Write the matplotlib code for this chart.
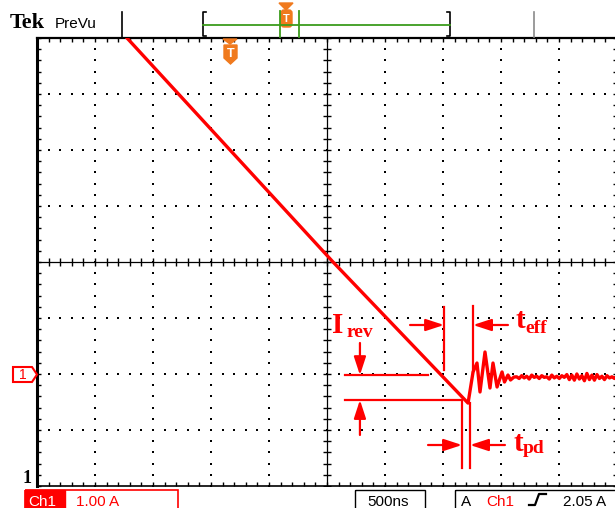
import numpy as np
import matplotlib
matplotlib.use("Agg")
import matplotlib.pyplot as plt
from matplotlib.patches import Polygon, Rectangle, FancyBboxPatch

# ---------------- data (time in ns from left screen edge, current in A) -------------
ramp_t = [776, 2552, 3716]
ramp_i = [6.0, 2.0, -0.52]
ring_t = [3759, 3793, 3819, 3862, 3905, 3931, 3966, 4009, 4030, 4060, 4082, 4112]
ring_i = [0.036, 0.196, -0.321, 0.393, -0.25, 0.196, -0.232, 0.036, -0.143, -0.018, -0.107, -0.054]
tail_i = [-0.05, -0.08, -0.03, -0.07, -0.04, -0.09, -0.02, -0.06, -0.04, -0.08,
          -0.03, -0.06, -0.05, -0.09, -0.02, -0.07, -0.04, -0.08, -0.03, -0.06,
          -0.01, -0.10, -0.02, -0.11, 0.00, -0.09, -0.03, -0.12, 0.01, -0.10,
          -0.02, -0.11, -0.01, -0.08, -0.04, -0.10, -0.03, -0.07, -0.05, -0.08, -0.04]
tail_t = np.linspace(4135, 5000, len(tail_i))

time_div_ns = 500
amp_div = 1.0
x_range = (0, 5000)
y_range = (-2.0, 6.0)
trigger_t = 1665

# annotation levels (A) and times (ns)
irev_top, irev_bot = -0.02, -0.464
teff_t0, teff_t1 = 3509, 3759
tpd_t0, tpd_t1 = 3664, 3733

RED = "#ff0000"
ORANGE = "#f07a1e"
GREEN = "#3c9c1c"

fig = plt.figure(figsize=(6.15, 5.08), dpi=100)
fig.patch.set_facecolor("white")
ax = fig.add_axes([37 / 615, 22 / 508, 580 / 615, 448 / 508])
ax.set_xlim(*x_range)
ax.set_ylim(*y_range)

# frame
for side, lw in (("left", 2.2), ("top", 1.6), ("bottom", 1.2), ("right", 1.6)):
    ax.spines[side].set_linewidth(lw)
    ax.spines[side].set_color("black")
minor_x = np.arange(x_range[0], x_range[1] + 1, time_div_ns / 5)
minor_y = np.arange(y_range[0], y_range[1] + 1e-9, amp_div / 5)
ax.set_xticks(minor_x)
ax.set_yticks(minor_y)
ax.tick_params(which="both", direction="in", length=3.2, width=1.0, top=True, right=True,
               labelbottom=False, labelleft=False, color="black")

# dotted graticule
major_x = np.arange(x_range[0] + time_div_ns, x_range[1], time_div_ns)
major_y = np.arange(y_range[0] + amp_div, y_range[1], amp_div)
cx = (x_range[0] + x_range[1]) / 2
cy = (y_range[0] + y_range[1]) / 2
for xv in major_x:
    if xv == cx:
        continue
    ax.plot(np.full_like(minor_y, xv), minor_y, ls="none", marker="s", ms=1.6, color="black", mew=0)
for yv in major_y:
    if abs(yv - cy) < 1e-9:
        continue
    ax.plot(minor_x, np.full_like(minor_x, yv), ls="none", marker="s", ms=1.6, color="black", mew=0)
# centre cross with ticks
ax.axvline(cx, color="black", lw=0.9)
ax.axhline(cy, color="black", lw=0.9)
ax.plot(np.full_like(minor_y, cx), minor_y, ls="none", marker="_", ms=6, mew=1.0, color="black")
ax.plot(minor_x, np.full_like(minor_x, cy), ls="none", marker="|", ms=6, mew=1.0, color="black")

# trace
t_all = np.concatenate([ramp_t, ring_t, tail_t])
i_all = np.concatenate([ramp_i, ring_i, tail_i])
ax.plot(t_all, i_all, color=RED, lw=2.4, zorder=4, solid_joinstyle="round")

# annotations
alw = 1.6
ax.plot([2655, 3371], [irev_top, irev_top], color=RED, lw=alw, zorder=5)
ax.plot([2655, tpd_t0], [irev_bot, irev_bot], color=RED, lw=alw, zorder=5)
ax.plot([teff_t0, teff_t0], [1.196, 0.071], color=RED, lw=alw, zorder=5)
ax.plot([teff_t1, teff_t1], [1.214, 0.036], color=RED, lw=alw, zorder=5)
ax.plot([tpd_t0, tpd_t0], [irev_bot, -1.679], color=RED, lw=alw, zorder=5)
ax.plot([tpd_t1, tpd_t1], [-0.518, -1.679], color=RED, lw=alw, zorder=5)
aprops = dict(arrowstyle="-|>,head_length=1.1,head_width=0.36", mutation_scale=10,
              color=RED, lw=alw, shrinkA=0, shrinkB=0)
ax.annotate("", xy=(2784, irev_top), xytext=(2784, 0.554), arrowprops=aprops, zorder=5)
ax.annotate("", xy=(2784, irev_bot), xytext=(2784, -1.089), arrowprops=aprops, zorder=5)
ax.annotate("", xy=(teff_t0, 0.875), xytext=(3216, 0.875), arrowprops=aprops, zorder=5)
ax.annotate("", xy=(teff_t1, 0.875), xytext=(4060, 0.875), arrowprops=aprops, zorder=5)
ax.annotate("", xy=(tpd_t0, -1.268), xytext=(3371, -1.268), arrowprops=aprops, zorder=5)
ax.annotate("", xy=(tpd_t1, -1.268), xytext=(4034, -1.268), arrowprops=aprops, zorder=5)

# overlay in pixel coordinates
ov = fig.add_axes([0, 0, 1, 1], zorder=10)
ov.set_xlim(0, 615)
ov.set_ylim(508, 0)
ov.axis("off")
ov.patch.set_alpha(0)

serif_b = dict(family="Liberation Serif", weight="bold")
sans = dict(family="Liberation Sans")

ov.text(332, 333, "I", color=RED, fontsize=21, va="baseline", **serif_b)
ov.text(347, 337, "rev", color=RED, fontsize=14, va="baseline", **serif_b)
ov.text(515, 328, "t", color=RED, fontsize=21, va="baseline", **serif_b)
ov.text(525, 333, "eff", color=RED, fontsize=14, va="baseline", **serif_b)
ov.text(513, 451, "t", color=RED, fontsize=21, va="baseline", **serif_b)
ov.text(523, 453, "pd", color=RED, fontsize=14, va="baseline", **serif_b)

# top bar
ov.text(10, 28, "Tek", fontsize=16, va="baseline", color="black", **serif_b)
ov.text(55, 28, "PreVu", fontsize=11, va="baseline", color="black", **sans)
ov.plot([122, 122], [12, 37], color="black", lw=1.2)
ov.plot([534, 534], [12, 37], color="#8a8a8a", lw=1.2)
ov.plot([206, 203, 203, 206], [12, 12, 36, 36], color="black", lw=1.2)
ov.plot([447, 450, 450, 447], [12, 12, 36, 36], color="black", lw=1.2)
ov.plot([203, 450], [25, 25], color=GREEN, lw=1.3)
ov.plot([280, 280], [11, 37], color=GREEN, lw=1.3)
ov.plot([299, 299], [11, 37], color=GREEN, lw=1.3)
ov.add_patch(Polygon([(279, 3), (293, 3), (286, 10)], closed=True, color=ORANGE))
ov.add_patch(FancyBboxPatch((281, 10), 11, 17, boxstyle="round,pad=0,rounding_size=3", color=ORANGE))
ov.text(286.5, 19, "T", color="white", fontsize=8, ha="center", va="center", weight="bold", **sans)

# trigger position marker
ov.add_patch(Polygon([(223, 39), (237, 39), (230, 44)], closed=True, color=ORANGE))
ov.add_patch(Polygon([(224, 45), (237, 45), (237, 58), (230.5, 64), (224, 58)], closed=True, color=ORANGE))
ov.text(230.5, 54, "T", color="white", fontsize=9, ha="center", va="center", weight="bold", **sans)

# channel ground marker
ov.add_patch(Polygon([(13, 367), (32, 367), (37, 374.5), (32, 382), (13, 382)], closed=True,
                     facecolor="white", edgecolor=RED, lw=1.5))
ov.text(22.5, 375, "1", color=RED, fontsize=10, ha="center", va="center", **sans)
ov.text(23, 483, "1", fontsize=13, va="baseline", color="black", **serif_b)

# bottom status bar
ov.add_patch(Rectangle((25, 489.5), 153, 22, fill=False, edgecolor=RED, lw=1.2))
ov.add_patch(Rectangle((25, 489.5), 40, 22, color=RED))
ov.text(28, 506, "Ch1", color="white", fontsize=11, va="baseline", **sans)
ov.text(76, 506, "1.00 A", color=RED, fontsize=11, va="baseline", **sans)
ov.add_patch(Rectangle((355, 489.5), 70, 22, fill=False, edgecolor="black", lw=1.0))
ov.text(367, 506, "500ns", color="black", fontsize=11, va="baseline", **sans)
ov.add_patch(Rectangle((455, 489.5), 170, 22, fill=False, edgecolor="black", lw=1.0))
ov.text(461, 506, "A", color="black", fontsize=11, va="baseline", **sans)
ov.text(486, 506, "Ch1", color=RED, fontsize=11, va="baseline", **sans)
ov.plot([529, 535, 539, 546], [505, 505, 494, 494], color="black", lw=1.6)
ov.text(563, 506, "2.05 A", color="black", fontsize=11, va="baseline", **sans)

fig.savefig("out.png", dpi=100)
